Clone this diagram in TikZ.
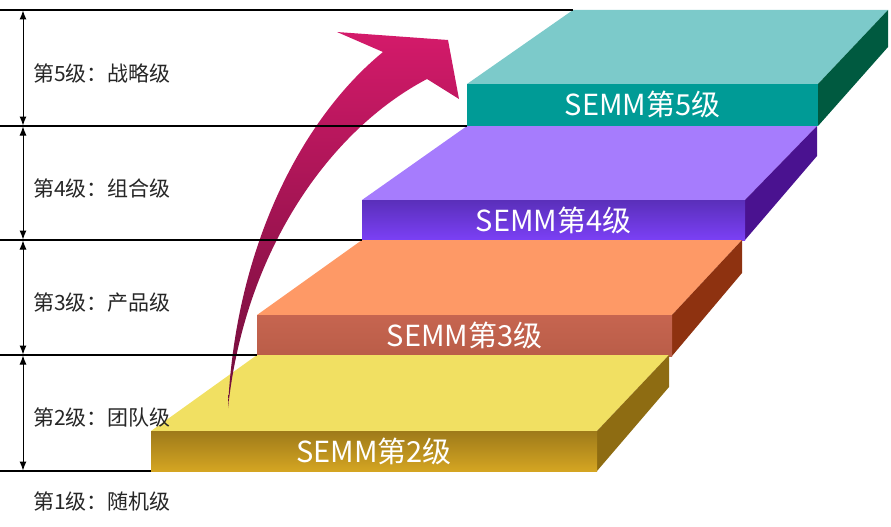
\documentclass[tikz,border=0pt]{standalone}
\usepackage{fontspec}
\setmainfont{Noto Sans CJK SC}
\usetikzlibrary{arrows.meta}
\definecolor{t5top}{HTML}{7CCACA}
\definecolor{t5front}{HTML}{009B96}
\definecolor{t5side}{HTML}{005A40}
\definecolor{t4top}{HTML}{A67CFD}
\definecolor{t4fronta}{HTML}{5A2FBA}
\definecolor{t4frontb}{HTML}{7B40F5}
\definecolor{t4side}{HTML}{4A1290}
\definecolor{t3top}{HTML}{FE9966}
\definecolor{t3fronta}{HTML}{C66550}
\definecolor{t3frontm}{HTML}{DA6E51}
\definecolor{t3frontb}{HTML}{BA5D48}
\definecolor{t3side}{HTML}{8E3210}
\definecolor{t2top}{HTML}{F1E062}
\definecolor{t2fronta}{HTML}{9E7A1A}
\definecolor{t2frontb}{HTML}{D4A522}
\definecolor{t2side}{HTML}{8E6C12}
\definecolor{arrtop}{HTML}{D41A6A}
\definecolor{arrmid}{HTML}{C2165E}
\definecolor{arrbot}{HTML}{6E0E3A}
\tikzset{
  levellabel/.style={anchor=west, inner sep=0pt, font=\fontsize{21}{24}\selectfont, text=black!85},
  semmlabel/.style={inner sep=0pt, font=\fontsize{29}{32}\selectfont, text=white},
  guide/.style={line width=1.2pt, black},
  dim/.style={line width=1pt, black, {Latex[length=9pt,width=7pt]}-{Latex[length=9pt,width=7pt]}, shorten <=0.5pt, shorten >=0.5pt},
}
\begin{document}
\begin{tikzpicture}[x=1pt,y=-1pt]
\useasboundingbox (0,0) rectangle (891,527);

% ---- level 5 ----
\fill[t5top] (467,84) -- (573,10) -- (888,10) -- (818,84) -- cycle;
\fill[t5side] (818,84) -- (888,10) -- (888,47) -- (818,126) -- cycle;
\fill[t5front] (467,84) rectangle (818,126);
% ---- level 4 ----
\fill[t4top] (362,200) -- (467,126) -- (817,126) -- (745,200) -- cycle;
\fill[t4side] (745,200) -- (817,126) -- (817,156) -- (745,240) -- cycle;
\shade[top color=t4fronta, bottom color=t4frontb] (362,200) rectangle (745,240);
% ---- level 3 ----
\fill[t3top] (257,315) -- (362,240) -- (742,240) -- (672,315) -- cycle;
\fill[t3side] (672,315) -- (742,240) -- (742,273) -- (672,356) -- cycle;
\shade[top color=t3fronta, middle color=t3frontm, bottom color=t3frontb] (257,315) rectangle (672,356);
% ---- level 2 ----
\fill[t2top] (151,431) -- (257,355) -- (669,355) -- (597,431) -- cycle;
\fill[t2side] (597,431) -- (669,355) -- (669,387) -- (597,471) -- cycle;
\shade[top color=t2fronta, bottom color=t2frontb] (151,431) rectangle (597,471);

% ---- block labels ----
\node[semmlabel] (semm5) at (642.5,104) {SEMM第5级};
\node[semmlabel] (semm4) at (553.5,220) {SEMM第4级};
\node[semmlabel] (semm3) at (464.5,335) {SEMM第3级};
\node[semmlabel] (semm2) at (374,451) {SEMM第2级};

% ---- big arrow ----
\shade[top color=arrtop, middle color=arrmid, bottom color=arrbot]
  (228,408) .. controls (235,250) and (300,120) .. (383,52)
  -- (337,32) -- (448,40) -- (459,99) -- (427,79)
  .. controls (330,130) and (245,250) .. (228,408) -- cycle;

% ---- guide lines ----
\coordinate (g0) at (0,10);   \coordinate (e0) at (573,10);
\coordinate (g1) at (0,126);  \coordinate (e1) at (467,126);
\coordinate (g2) at (0,240);  \coordinate (e2) at (362,240);
\coordinate (g3) at (0,355);  \coordinate (e3) at (257,355);
\coordinate (g4) at (0,471);  \coordinate (e4) at (151,471);
\draw[guide] (g0) -- (e0);
\draw[guide] (g1) -- (e1);
\draw[guide] (g2) -- (e2);
\draw[guide] (g3) -- (e3);
\draw[guide] (g4) -- (e4);

% ---- dimension arrows ----
\coordinate (d0) at (23,10);
\coordinate (d1) at (23,126);
\coordinate (d2) at (23,240);
\coordinate (d3) at (23,355);
\coordinate (d4) at (23,471);
\draw[dim] (d0) -- (d1);
\draw[dim] (d1) -- (d2);
\draw[dim] (d2) -- (d3);
\draw[dim] (d3) -- (d4);

% ---- level labels ----
\node[levellabel] (lab5) at (33,73) {第5级：战略级};
\node[levellabel] (lab4) at (33,188) {第4级：组合级};
\node[levellabel] (lab3) at (33,303) {第3级：产品级};
\node[levellabel] (lab2) at (33,417) {第2级：团队级};
\node[levellabel] (lab1) at (33,501) {第1级：随机级};
\end{tikzpicture}
\end{document}
